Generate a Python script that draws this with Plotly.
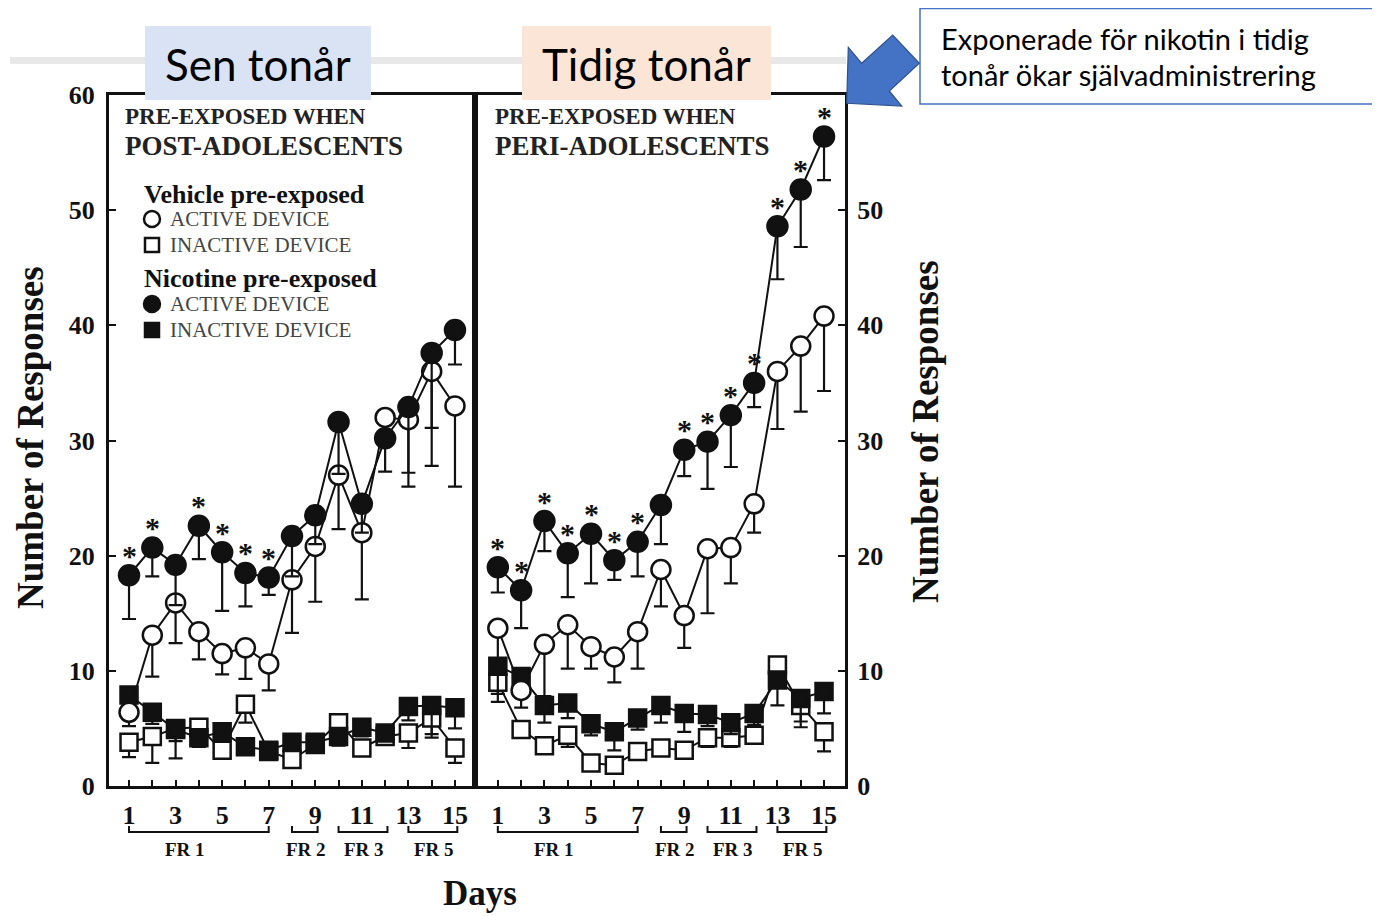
import plotly.graph_objects as go

# ---------------- data ----------------
DAYS = list(range(1, 16))
X_TICK_TEXT = [str(d) if d % 2 else "" for d in DAYS]
Y_TICKS_LEFT = [0, 10, 20, 30, 40, 50, 60]
Y_TICKS_RIGHT = [0, 10, 20, 30, 40, 50]

# Left panel: pre-exposed when post-adolescents ("Sen tonår")
POST_NIC_ACTIVE = [18.3, 20.7, 19.2, 22.6, 20.3, 18.5, 18.1, 21.7, 23.5, 31.6, 24.5, 30.2, 32.9, 37.6, 39.6]
POST_NIC_ACTIVE_ERR = [3.8, 2.5, 3.5, 2.9, 5.1, 2.9, 1.5, 3.5, 2.5, 4.5, 2.5, 2.9, 5.7, 6.5, 3.0]
POST_VEH_ACTIVE = [6.4, 13.1, 15.9, 13.4, 11.5, 12.0, 10.6, 17.9, 20.8, 27.0, 22.0, 32.0, 31.8, 36.0, 33.0]
POST_VEH_ACTIVE_ERR = [1.2, 3.6, 3.5, 2.4, 1.8, 2.7, 2.3, 4.6, 4.8, 4.7, 5.8, 1.5, 5.8, 8.2, 7.0]
POST_NIC_INACTIVE = [7.9, 6.4, 4.9, 4.2, 4.7, 3.4, 3.1, 3.8, 3.8, 4.3, 5.1, 4.6, 6.9, 7.0, 6.8]
POST_NIC_INACTIVE_ERR = [1.5, 1.0, 1.0, 0.8, 0.8, 0.6, 0.5, 0.6, 0.6, 0.8, 0.8, 0.6, 1.2, 2.5, 1.8]
POST_VEH_INACTIVE = [3.8, 4.3, 5.0, 5.1, 3.1, 7.1, 3.0, 2.3, 3.6, 5.5, 3.3, 4.3, 4.6, 5.9, 3.3]
POST_VEH_INACTIVE_ERR = [1.3, 2.3, 2.6, 1.0, 0.6, 1.6, 0.5, 0.5, 0.5, 0.8, 0.6, 0.6, 1.3, 1.7, 1.3]
POST_SIGNIFICANT = [1, 1, 0, 1, 1, 1, 1, 0, 0, 0, 0, 0, 0, 0, 0]

# Right panel: pre-exposed when peri-adolescents ("Tidig tonår")
PERI_NIC_ACTIVE = [19.0, 17.0, 23.0, 20.2, 21.9, 19.6, 21.2, 24.4, 29.2, 29.9, 32.2, 35.0, 48.6, 51.8, 56.4]
PERI_NIC_ACTIVE_ERR = [2.2, 3.3, 2.6, 3.8, 4.3, 1.7, 3.0, 3.4, 2.3, 4.1, 4.5, 2.1, 4.6, 5.0, 3.8]
PERI_VEH_ACTIVE = [13.7, 8.3, 12.3, 14.0, 12.1, 11.2, 13.4, 18.8, 14.8, 20.6, 20.7, 24.5, 36.0, 38.2, 40.8]
PERI_VEH_ACTIVE_ERR = [3.5, 1.5, 4.5, 3.8, 1.9, 2.2, 3.2, 3.2, 2.8, 5.6, 3.1, 2.5, 5.0, 5.7, 6.5]
PERI_NIC_INACTIVE = [10.4, 9.5, 7.0, 7.2, 5.4, 4.7, 5.9, 7.0, 6.3, 6.2, 5.5, 6.3, 9.2, 7.6, 8.2]
PERI_NIC_INACTIVE_ERR = [3.1, 1.5, 1.5, 1.3, 1.0, 1.6, 1.0, 1.5, 1.6, 1.0, 1.0, 1.0, 2.2, 2.5, 1.9]
PERI_VEH_INACTIVE = [9.0, 4.9, 3.5, 4.4, 2.0, 1.8, 3.0, 3.3, 3.1, 4.2, 4.2, 4.4, 10.5, 7.0, 4.7]
PERI_VEH_INACTIVE_ERR = [1.0, 0.7, 0.5, 1.0, 0.4, 0.4, 0.5, 0.5, 0.6, 0.8, 0.8, 0.6, 1.2, 1.4, 1.7]
PERI_SIGNIFICANT = [1, 1, 1, 1, 1, 1, 1, 0, 1, 1, 1, 1, 1, 1, 1]

FR_LABELS = ["FR 1", "FR 2", "FR 3", "FR 5"]
FR_START = [1, 8, 10, 13]
FR_END = [7, 9.1, 12.1, 15.1]
FR_LABEL_AT = [3.4, 8.6, 11.1, 14.1]

PANEL_TITLES = [("PRE-EXPOSED WHEN", "POST-ADOLESCENTS"), ("PRE-EXPOSED WHEN", "PERI-ADOLESCENTS")]
AGE_LABELS = ["Sen tonår", "Tidig tonår"]
CALLOUT_LINES = ["Exponerade för nikotin i tidig", "tonår ökar självadministrering"]

# ---------------- layout helpers ----------------
# the page body has an 8px default margin, so the figure is sized to fill the
# remaining viewport and target pixel positions are shifted by that offset
OFF = 8
W, H = 1380 - OFF, 916 - OFF
def px(x):
    return (x - OFF) / W
def py(y):
    return 1 - (y - OFF) / H

SERIF = "Liberation Serif"
SANS = "Lato"
INK = "#111111"

fig = go.Figure()

def note(x, y, text, font, xanchor="center", **kw):
    fig.add_annotation(x=x, y=y, xref=kw.pop("xref", "paper"), yref=kw.pop("yref", "paper"),
                       text=text, showarrow=False, xanchor=xanchor, yanchor="middle",
                       font=font, **kw)

def add_series(xa, ya, y, err, symbol, filled, size):
    fig.add_trace(go.Scatter(
        x=DAYS, y=y, xaxis=xa, yaxis=ya, mode="lines+markers",
        line=dict(color=INK, width=2),
        marker=dict(symbol=symbol, size=size, color=INK if filled else "white",
                    line=dict(color=INK, width=2.5)),
        error_y=dict(type="data", symmetric=False, array=[0] * len(DAYS), arrayminus=err,
                     color=INK, thickness=2.2, width=7),
        showlegend=False, cliponaxis=False, hoverinfo="x+y"))

panels = [
    ("x", "y", POST_NIC_ACTIVE, POST_NIC_ACTIVE_ERR, POST_VEH_ACTIVE, POST_VEH_ACTIVE_ERR,
     POST_NIC_INACTIVE, POST_NIC_INACTIVE_ERR, POST_VEH_INACTIVE, POST_VEH_INACTIVE_ERR, POST_SIGNIFICANT),
    ("x2", "y2", PERI_NIC_ACTIVE, PERI_NIC_ACTIVE_ERR, PERI_VEH_ACTIVE, PERI_VEH_ACTIVE_ERR,
     PERI_NIC_INACTIVE, PERI_NIC_INACTIVE_ERR, PERI_VEH_INACTIVE, PERI_VEH_INACTIVE_ERR, PERI_SIGNIFICANT),
]

star_font = dict(family=SERIF, size=30, color=INK, weight="bold")
for (xa, ya, na, nae, va, vae, ni, nie, vi, vie, sig) in panels:
    add_series(xa, ya, vi, vie, "square", False, 17)
    add_series(xa, ya, ni, nie, "square", True, 17)
    add_series(xa, ya, va, vae, "circle", False, 19)
    add_series(xa, ya, na, nae, "circle", True, 20)
    for d, v, s in zip(DAYS, na, sig):
        if s:
            note(d, v, "*", star_font, xref=xa, yref=ya, yshift=20)

axis_common = dict(showgrid=False, zeroline=False, showline=True, linewidth=3, linecolor=INK,
                   mirror=True, ticks="inside", tickcolor=INK, tickwidth=2, automargin=False)
xfont = dict(family=SERIF, size=26, color=INK, weight="bold")
yfont = dict(family=SERIF, size=26, color=INK, weight="bold")

fig.update_layout(
    width=W, height=H, margin=dict(l=0, r=0, t=0, b=0, autoexpand=False),
    paper_bgcolor="white", plot_bgcolor="white", showlegend=False,
    xaxis=dict(domain=[px(109), px(475)], range=[0.14, 15.86], anchor="y",
               tickmode="array", tickvals=DAYS, ticktext=X_TICK_TEXT, ticklen=6,
               tickfont=xfont, ticklabelstandoff=4, **axis_common),
    xaxis2=dict(domain=[px(475), px(845)], range=[0.02, 15.9], anchor="y2",
                tickmode="array", tickvals=DAYS, ticktext=X_TICK_TEXT, ticklen=6,
                tickfont=xfont, ticklabelstandoff=4, **axis_common),
    yaxis=dict(domain=[py(786), py(95)], range=[0, 60], anchor="x",
               tickmode="array", tickvals=Y_TICKS_LEFT, ticklen=7,
               tickfont=yfont, ticklabelstandoff=6, **axis_common),
    yaxis2=dict(domain=[py(786), py(95)], range=[0, 60], anchor="x2", side="right",
                tickmode="array", tickvals=Y_TICKS_RIGHT, ticklen=7,
                tickfont=yfont, ticklabelstandoff=4, **axis_common),
)

# axis titles
title_font = dict(family=SERIF, size=37, color=INK, weight="bold")
note(px(30), py(438), "Number of Responses", title_font, textangle=-90)
note(px(925), py(432), "Number of Responses", title_font, textangle=-90)
note(px(480), py(893), "Days", dict(family=SERIF, size=35, color=INK, weight="bold"))

# FR brackets
fr_font = dict(family=SERIF, size=19, color=INK, weight="bold")
for xa in ["x", "x2"]:
    for lab, s, e, at in zip(FR_LABELS, FR_START, FR_END, FR_LABEL_AT):
        fig.add_shape(type="path", xref=xa, yref="paper",
                      path=f"M {s},{py(826)} L {s},{py(832)} L {e},{py(832)} L {e},{py(826)}",
                      line=dict(color=INK, width=2))
        note(at, py(849), lab, fr_font, xref=xa)

# panel titles
for x0, (l1, l2) in zip([123, 493], PANEL_TITLES):
    note(px(x0), py(117), l1, dict(family=SERIF, size=23, color="#222", weight="bold"), xanchor="left")
    note(px(x0), py(146), l2, dict(family=SERIF, size=27, color="#222", weight="bold"), xanchor="left")

# legend (drawn as text + shapes)
legend_rows = [
    ("Vehicle pre-exposed", 194, None),
    ("ACTIVE DEVICE", 219, ("circle", False)),
    ("INACTIVE DEVICE", 245, ("rect", False)),
    ("Nicotine pre-exposed", 278, None),
    ("ACTIVE DEVICE", 304, ("circle", True)),
    ("INACTIVE DEVICE", 330, ("rect", True)),
]
for text, yy, mk in legend_rows:
    if mk is None:
        note(px(142), py(yy), text, dict(family=SERIF, size=26, color=INK, weight="bold"), xanchor="left")
    else:
        kind, filled = mk
        r = 8 if kind == "circle" else 7
        fig.add_shape(type=kind, xref="paper", yref="paper",
                      x0=px(152 - r), x1=px(152 + r), y0=py(yy + r), y1=py(yy - r),
                      line=dict(color=INK, width=2.5), fillcolor=INK if filled else "white")
        note(px(168), py(yy), text, dict(family=SERIF, size=21, color="#444"), xanchor="left")

# overlay: grey band, age boxes, callout, arrow
fig.add_shape(type="rect", xref="paper", yref="paper", x0=px(10), x1=px(846), y0=py(64), y1=py(57),
              fillcolor="#e8e8e8", line=dict(width=0), layer="above")
for (x0, x1, col), lab in zip([(145, 371, "#dae3f3"), (522, 771, "#fbe5d6")], AGE_LABELS):
    fig.add_shape(type="rect", xref="paper", yref="paper", x0=px(x0), x1=px(x1), y0=py(100), y1=py(26),
                  fillcolor=col, line=dict(width=0), layer="above")
    note(px((x0 + x1) / 2), py(64), lab, dict(family=SANS, size=44, color="#000"))

fig.add_shape(type="rect", xref="paper", yref="paper", x0=px(920), x1=px(1378), y0=py(104), y1=py(8.5),
              fillcolor="white", line=dict(color="#4472c4", width=1.5), layer="above")
for line_text, yy in zip(CALLOUT_LINES, [38, 75]):
    note(px(939), py(yy), line_text, dict(family=SANS, size=29, color="#000"), xanchor="left")

arrow_pts = [(846.7, 103.3), (848.3, 47.3), (861.7, 63.3), (892.7, 35), (919.3, 63.3),
             (889.3, 91), (901.7, 106)]
path = "M " + " L ".join(f"{px(a)},{py(b)}" for a, b in arrow_pts) + " Z"
fig.add_shape(type="path", xref="paper", yref="paper", path=path,
              fillcolor="#4472c4", line=dict(color="#2f528f", width=1.2), layer="above")

fig.write_html("out.html")
